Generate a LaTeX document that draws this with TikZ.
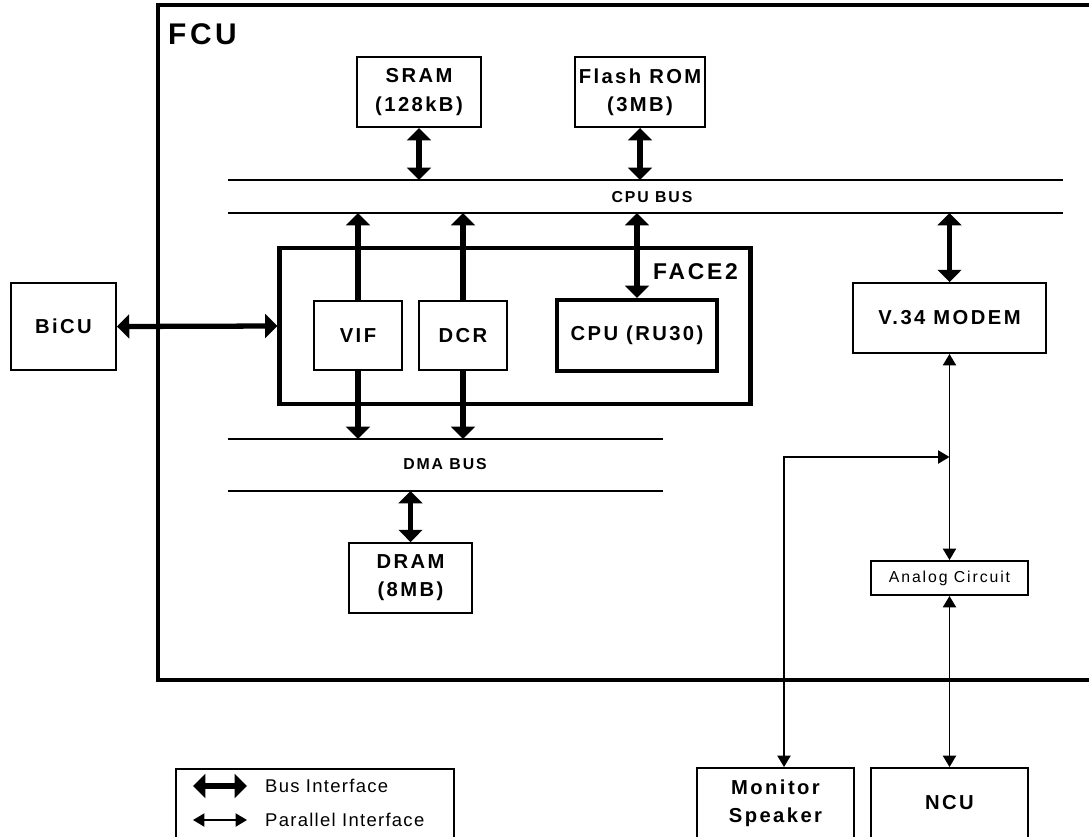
\documentclass[tikz,border=0pt]{standalone}
\usepackage{fontspec}
\setmainfont{Liberation Sans}
\newfontfamily\spacedfont{Liberation Sans}[LetterSpace=12]
\newfontfamily\legendfont{Liberation Sans}[LetterSpace=7]
\usetikzlibrary{arrows.meta,positioning}

\begin{document}
\begin{tikzpicture}[
  x=0.02cm, y=-0.02cm,
  box/.style={draw, line width=1.1pt, align=center, inner sep=2pt,
              font=\spacedfont\bfseries\fontsize{11.5}{16}\selectfont},
  heavybox/.style={box, line width=2.4pt},
  buslabel/.style={font=\spacedfont\bfseries\fontsize{9}{11}\selectfont},
  legendtext/.style={font=\legendfont\fontsize{10.5}{12}\selectfont, anchor=west},
  busline/.style={line width=1.1pt},
  busarr/.style={{Triangle[width=13.5pt,length=7pt]}-{Triangle[width=13.5pt,length=7pt]}, line width=3pt},
  busto/.style={-{Triangle[width=13.5pt,length=7pt]}, line width=3pt},
  pararr/.style={{Triangle[width=7.5pt,length=6.5pt]}-{Triangle[width=7.5pt,length=6.5pt]}, line width=0.9pt}
]
\clip (0,0) rectangle (1089,836);

\node[heavybox, minimum width=18.84cm, minimum height=13.5cm] (fcu) at (629,342.5) {};
\node[font=\spacedfont\bfseries\fontsize{17}{20}\selectfont, anchor=west] (fculabel) at (162,34) {FCU};

\node[box, minimum width=2.48cm, minimum height=1.4cm] (sram) at (419,92) {SRAM\\(128kB)};
\node[box, minimum width=2.6cm, minimum height=1.4cm] (flash) at (640,92) {Flash ROM\\(3MB)};

\coordinate (cputop-w) at (228,180);
\coordinate (cputop-e) at (1063,180);
\coordinate (cpubot-w) at (228,213);
\coordinate (cpubot-e) at (1063,213);
\node[buslabel] (cpubus) at (652,197) {CPU BUS};

\node[heavybox, minimum width=9.42cm, minimum height=3.12cm] (face) at (515,326) {};
\node[font=\spacedfont\bfseries\fontsize{13}{15}\selectfont, anchor=east] (facelabel) at (744,272) {FACE2};
\node[box, minimum width=1.76cm, minimum height=1.38cm] (vif) at (358,335.5) {VIF};
\node[box, minimum width=1.76cm, minimum height=1.38cm] (dcr) at (463,335.5) {DCR};
\node[heavybox, minimum width=3.2cm, minimum height=1.42cm] (cpu) at (637,335.5) {CPU (RU30)};

\node[box, minimum width=2.1cm, minimum height=1.74cm] (bicu) at (63.5,326.5) {BiCU};
\node[box, minimum width=3.86cm, minimum height=1.4cm] (modem) at (949.5,318) {V.34 MODEM};

\coordinate (dmatop-w) at (228,439);
\coordinate (dmatop-e) at (663,439);
\coordinate (dmabot-w) at (228,491);
\coordinate (dmabot-e) at (663,491);
\node[buslabel] (dmabus) at (445,464) {DMA BUS};
\node[box, minimum width=2.46cm, minimum height=1.4cm] (dram) at (410.5,578) {DRAM\\(8MB)};

\node[box, font=\spacedfont\fontsize{9}{11}\selectfont, minimum width=3.14cm, minimum height=0.68cm] (analog) at (949.5,578) {Analog Circuit};
\node[box, minimum width=3.14cm, minimum height=1.4cm] (mspk) at (775.5,803) {Monitor\\Speaker};
\node[box, minimum width=3.14cm, minimum height=1.4cm] (ncu) at (949.5,803) {NCU};
\coordinate (bend) at (784,457);
\coordinate (tap) at (modem.south |- bend);

\node[box, minimum width=5.56cm, minimum height=1.38cm] (legend) at (315,803.5) {};
\coordinate (busl-a) at (193,786);
\coordinate (busl-b) at (247,786);
\coordinate (parl-a) at (193,820);
\coordinate (parl-b) at (247,820);
\node[legendtext] (buslegend) at (259,786) {Bus Interface};
\node[legendtext] (parlegend) at (259,820) {Parallel Interface};

\draw[busline] (cputop-w) -- (cputop-e);
\draw[busline] (cpubot-w) -- (cpubot-e);
\draw[busline] (dmatop-w) -- (dmatop-e);
\draw[busline] (dmabot-w) -- (dmabot-e);

\draw[busarr] (sram.south) -- (sram.south |- cputop-w);
\draw[busarr] (flash.south) -- (flash.south |- cputop-w);
\draw[busto] (vif.north) -- (vif.north |- cpubot-w);
\draw[busto] (dcr.north) -- (dcr.north |- cpubot-w);
\draw[busarr] (cpu.north |- cpubot-w) -- (cpu.north);
\draw[busarr] (modem.north |- cpubot-w) -- (modem.north);
\draw[busto] (vif.south) -- (vif.south |- dmatop-w);
\draw[busto] (dcr.south) -- (dcr.south |- dmatop-w);
\draw[busarr] (dram.north |- dmabot-w) -- (dram.north);
\draw[busarr] (bicu.east) -- (face.west);

\draw[pararr] (modem.south) -- (analog.north);
\draw[pararr] (analog.south) -- (ncu.north);
\draw[pararr] (mspk.north -| bend) -- (bend) -- (tap);

\draw[busarr] (busl-a) -- (busl-b);
\draw[pararr] (parl-a) -- (parl-b);
\end{tikzpicture}
\end{document}
